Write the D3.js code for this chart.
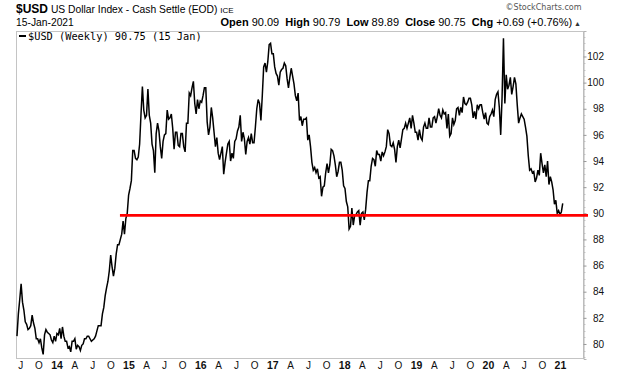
<!DOCTYPE html>
<html>
<head>
<meta charset="utf-8">
<script src="https://cdn.jsdelivr.net/npm/d3@7"></script>
<style>
  body { margin: 0; background: #fff; }
  svg { display: block; font-family: "Liberation Sans", Arial, sans-serif; }
</style>
</head>
<body>
<svg id="chart" width="620" height="376"></svg>
<script>
// weekly closes, one per Friday starting 14-Jun-2013
const firstWeek = "2013-06-14";
const closes2013 = [80.6, 82.3, 83.4, 84.6, 83.2, 82.6, 81.7, 81.5, 81.1, 81.2, 81.4, 82.2, 81.6, 81.2, 80.4,
  80.4, 80.1, 80.4, 79.7, 79.2, 80.7, 81.1, 80.9, 80.8, 80.7, 80.3, 80.1, 80.6, 80.2];
const closes2014 = [80.8, 80.7, 81.2, 80.4, 81.3, 80.6, 80.2, 80.2, 79.7, 79.8, 79.4, 80.2, 80.2,
  80.4, 79.6, 79.9, 79.8, 79.5, 79.9, 80.0, 80.4, 80.4, 80.6, 80.6, 80.4, 80.2, 80.3, 80.4, 80.6, 81.0,
  81.4, 81.4, 81.4, 82.3, 82.8, 83.7, 84.3, 84.8, 85.6, 86.8, 85.9, 85.2, 85.8, 86.9,
  87.6, 87.6, 88.0, 88.4, 89.4, 88.4, 89.6, 90.0];
const closes2015 = [91.4, 91.9, 92.5, 94.8, 94.8, 94.2, 94.1, 94.3, 95.3, 97.6, 99.7, 97.9, 97.3,
  97.5, 99.5, 97.5, 96.9, 95.3, 94.8, 93.1, 96.1, 96.9, 96.3, 95.1, 94.2, 95.5, 96.0, 96.1, 97.9, 97.2, 97.3,
  97.6, 96.5, 94.9, 96.2, 96.2, 95.2, 95.1, 96.1, 96.1, 95.1, 94.7, 96.9, 96.9,
  99.2, 99.0, 99.6, 100.1, 98.4, 97.6, 98.7, 98.0];
const closes2016 = [98.6, 98.5, 99.0, 99.6, 99.6, 97.0, 96.0, 96.6, 98.1, 97.3, 96.2, 95.1, 95.8,
  94.6, 94.1, 94.6, 95.1, 93.0, 93.9, 94.6, 95.3, 95.5, 94.0, 94.6, 94.2, 95.5,
  95.7, 96.3, 96.6, 97.5, 95.5, 96.2, 95.7, 94.5, 95.5, 95.8, 95.3, 96.1, 95.4, 95.4,
  96.6, 98.0, 98.7, 98.4, 97.1, 99.0, 101.2, 101.5, 100.8, 101.6, 102.9, 103.0, 102.2];
const closes2017 = [102.2, 101.2, 100.7, 100.5, 99.8, 100.8, 101.0, 101.1, 101.5, 101.3, 100.3, 99.6, 100.4,
  101.1, 100.5, 99.9, 99.0, 98.6, 99.2, 97.1, 97.4, 96.7, 97.2, 97.2, 97.3, 95.6,
  96.0, 95.1, 93.9, 93.3, 93.5, 93.1, 93.4, 92.7, 92.8, 91.3, 92.0, 92.1, 93.1,
  93.8, 93.1, 93.7, 94.9, 94.8, 94.4, 93.7, 92.8, 93.2, 93.9, 93.9, 93.3, 92.1];
const closes2018 = [91.9, 90.9, 90.5, 88.8, 89.0, 90.4, 89.1, 89.8, 89.9, 90.1, 90.2, 89.1, 90.0,
  90.1, 89.5, 90.3, 91.6, 92.5, 92.5, 93.6, 94.2, 94.1, 93.6, 94.8, 94.5, 94.5,
  94.0, 94.7, 94.4, 94.7, 95.1, 96.4, 96.1, 95.2, 95.1, 95.4, 94.9, 93.9, 95.1,
  95.6, 95.0, 95.7, 96.4, 96.5, 96.9, 96.5, 96.9, 97.3, 96.5, 97.5, 96.9, 96.2];
const closes2019 = [96.2, 95.6, 96.4, 95.8, 95.6, 96.6, 96.9, 96.5, 96.5, 97.3, 96.6, 96.6, 97.3,
  97.4, 96.9, 97.4, 98.0, 97.5, 97.3, 97.9, 97.6, 97.7, 96.5, 97.6, 95.9, 96.1,
  97.3, 96.8, 97.1, 98.0, 98.1, 97.5, 98.1, 97.7, 98.9, 98.4, 98.3, 98.5, 98.8,
  98.8, 98.3, 97.3, 97.8, 97.2, 98.3, 98.0, 98.3, 98.3, 97.7, 97.2, 97.7, 96.9];
const closes2020 = [96.8, 97.4, 97.6, 97.9, 97.4, 98.7, 99.1, 99.3, 98.1, 96.0, 98.9, 103.4, 98.4,
  100.6, 99.5, 99.8, 100.4, 99.1, 99.7, 100.4, 99.9, 98.3, 96.9, 97.3, 97.6, 97.4,
  97.2, 96.6, 95.9, 94.4, 93.3, 93.4, 93.1, 93.2, 92.4, 92.7, 93.3, 92.9, 94.6,
  93.8, 93.1, 93.7, 92.8, 94.0, 92.2, 92.8, 92.4, 91.8, 90.7, 91.0, 90.0, 90.2];
const closes2021 = [89.9, 90.1, 90.75];

const supportLevel = 89.84;
const supportFrom = "2014-11-19";

const xDomain = ["2013-06-09", "2021-04-28"];
const yDomain = [78.85, 103.95];
const yTicks = [80, 82, 84, 86, 88, 90, 92, 94, 96, 98, 100, 102];
const monthLetters = ["", "", "", "A", "", "", "J", "", "", "O", "", ""];

const statLabels = ["Open", "High", "Low", "Close", "Chg"];
const statValues = ["90.09", "90.79", "89.89", "90.75", "+0.69 (+0.76%)"];

const parse = d3.utcParse("%Y-%m-%d");
const closes = [].concat(closes2013, closes2014, closes2015, closes2016, closes2017,
  closes2018, closes2019, closes2020, closes2021);
const start = parse(firstWeek);
const data = closes.map((v, i) => ({ date: d3.utcDay.offset(start, 7 * i), value: v }));
const lastDate = data[data.length - 1].date;

const svg = d3.select("#chart");
const width = +svg.attr("width");
const height = +svg.attr("height");
const margin = { top: 31, right: 37, bottom: 17, left: 16 };
const innerWidth = width - margin.left - margin.right;
const innerHeight = height - margin.top - margin.bottom;

const x = d3.scaleUtc()
  .domain(xDomain.map(parse))
  .range([margin.left, margin.left + innerWidth]);
const y = d3.scaleLinear()
  .domain(yDomain)
  .range([margin.top + innerHeight, margin.top]);

// header
const title = svg.append("text").attr("x", 16).attr("y", 13).attr("xml:space", "preserve");
title.append("tspan").attr("font-weight", "bold").attr("font-size", 12).text("$USD");
title.append("tspan").attr("font-size", 10.3).text(" US Dollar Index - Cash Settle (EOD) ");
title.append("tspan").attr("font-size", 8).text("ICE");

svg.append("text").attr("x", 16).attr("y", 26).attr("font-size", 10.3).text("15-Jan-2021");

svg.append("text")
  .attr("x", 581.5).attr("y", 10)
  .attr("text-anchor", "end")
  .attr("font-family", "DejaVu Sans")
  .attr("font-size", 8)
  .attr("fill", "#555")
  .text("\u00a9StockCharts.com");

const stats = svg.append("text")
  .attr("x", 581).attr("y", 26)
  .attr("text-anchor", "end")
  .attr("xml:space", "preserve")
  .attr("font-size", 11);
statLabels.forEach((lab, i) => {
  stats.append("tspan").attr("font-weight", "bold").text((i ? "  " : "") + lab);
  stats.append("tspan").text(" " + statValues[i]);
});
stats.append("tspan").attr("font-size", 7).attr("fill", "#333").text(" \u25b2");

// frame
svg.append("rect")
  .attr("x", margin.left + 0.5)
  .attr("y", margin.top + 0.5)
  .attr("width", innerWidth)
  .attr("height", innerHeight - 1)
  .attr("fill", "none")
  .attr("stroke", "#c4c4c4");

// right axis: minor ticks drawn as plain lines, majors through axisRight
const minor = d3.range(79, 104, 0.5).filter(v => !yTicks.includes(v));
svg.append("g")
  .selectAll("line")
  .data(minor)
  .join("line")
  .attr("x1", margin.left + innerWidth + 0.5)
  .attr("x2", margin.left + innerWidth + 2.5)
  .attr("y1", d => Math.round(y(d)) + 0.5)
  .attr("y2", d => Math.round(y(d)) + 0.5)
  .attr("stroke", "#c8c8c8");

svg.append("g")
  .attr("transform", `translate(${margin.left + innerWidth + 0.5},0)`)
  .call(d3.axisRight(y).tickValues(yTicks).tickSize(3).tickFormat(d3.format("d")))
  .call(g => g.select(".domain").attr("stroke", "#b4b4b4"))
  .call(g => g.selectAll("line").attr("stroke", "#999"))
  .call(g => g.selectAll("text")
    .attr("x", 20.5)
    .attr("text-anchor", "end")
    .attr("font-family", "Liberation Sans, Arial, sans-serif")
    .attr("font-size", 10)
    .attr("fill", "#111"));

// bottom axis, quarterly labels up to the last week
const quarterTicks = d3.utcMonth.every(3).range(x.domain()[0], d3.utcDay.offset(lastDate, 1));
svg.append("g")
  .attr("transform", `translate(0,${margin.top + innerHeight})`)
  .call(d3.axisBottom(x)
    .tickValues(quarterTicks)
    .tickSize(0)
    .tickPadding(3)
    .tickFormat(d => d.getUTCMonth() === 0 ? d3.utcFormat("%y")(d) : monthLetters[d.getUTCMonth()]))
  .call(g => g.select(".domain").remove())
  .call(g => g.selectAll("text")
    .attr("font-family", "Liberation Sans, Arial, sans-serif")
    .attr("font-size", d => d.getUTCMonth() === 0 ? 10.5 : 10)
    .attr("font-weight", d => d.getUTCMonth() === 0 ? "bold" : "normal")
    .attr("fill", "#111"));

// price line
const line = d3.line()
  .x(d => x(d.date))
  .y(d => y(d.value));

svg.append("path")
  .datum(data)
  .attr("fill", "none")
  .attr("stroke", "#000")
  .attr("stroke-width", 1.5)
  .attr("d", line);

// support line
svg.append("line")
  .attr("x1", x(parse(supportFrom)))
  .attr("x2", x.range()[1] + 5)
  .attr("y1", y(supportLevel))
  .attr("y2", y(supportLevel))
  .attr("stroke", "#ff0000")
  .attr("stroke-width", 2.6);

// legend
const legend = svg.append("g").attr("transform", `translate(${margin.left + 2},${margin.top})`);
legend.append("line")
  .attr("x1", 1).attr("x2", 8)
  .attr("y1", 5).attr("y2", 5)
  .attr("stroke", "#000")
  .attr("stroke-width", 2);
legend.append("text")
  .attr("x", 10).attr("y", 8.5)
  .attr("font-family", "DejaVu Sans Mono")
  .attr("font-size", 10.3)
  .text("$USD (Weekly) 90.75 (15 Jan)");
</script>
</body>
</html>
